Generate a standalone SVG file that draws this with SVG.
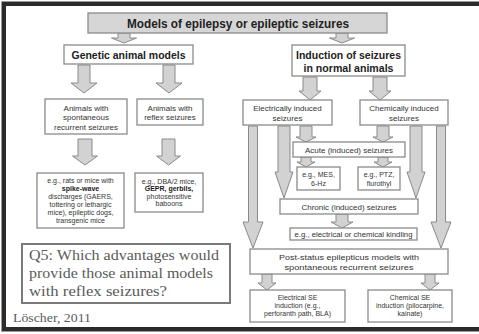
<svg xmlns="http://www.w3.org/2000/svg" width="479" height="334" viewBox="0 0 479 334">
  <style>
    .box { fill: #ffffff; stroke: #8a8a8a; stroke-width: 1.3; }
    .hdr { fill: #d6d6d6; stroke: #8a8a8a; stroke-width: 1.3; }
    .arr { fill: #d2d2d2; stroke: #8a8a8a; stroke-width: 1; stroke-linejoin: miter; }
    .t { font-family: "Liberation Sans", Arial, Helvetica, sans-serif; fill: #333333; text-anchor: middle; }
    .b { font-weight: bold; fill: #222222; }
    .s { font-size: 8px; }
    .xs { font-size: 7px; }
    .serif { font-family: "Liberation Serif", "Times New Roman", serif; fill: #5a5a5a; }
  </style>

  <!-- slide frame -->
  <path d="M479 4 H4 V329 H479" fill="none" stroke="#2b2b2b" stroke-width="4"/>
  <path d="M479 1.5 H1.5 V331.5 H479" fill="none" stroke="#9a9a9a" stroke-width="1"/>

  <!-- connectors: block arrows -->
  <g id="connectors">
    <!-- from title -->
    <polygon class="arr" points="118,33 130,33 130,38 136.5,38 124,43 111.5,38 118,38"/>
    <polygon class="arr" points="336,33 348,33 348,38 354.5,38 342,43 329.5,38 336,38"/>
    <!-- genetic -> animals -->
    <polygon class="arr" points="78,65 90,65 90,83 97,83 84,93 71,83 78,83"/>
    <polygon class="arr" points="163,65 175,65 175,83 182,83 169,93 156,83 163,83"/>
    <!-- induction -> electrically / chemically -->
    <polygon class="arr" points="303,77 317,77 317,91 321,91 310,100 299,91 303,91"/>
    <polygon class="arr" points="373,77 387,77 387,91 391,91 380,100 369,91 373,91"/>
    <!-- animals -> examples -->
    <polygon class="arr" points="78,139 92,139 92,156 97.5,156 85,165 72.5,156 78,156"/>
    <polygon class="arr" points="162,139 175,139 175,156 180.5,156 168.5,165 156.5,156 162,156"/>
    <!-- electrically / chemically -> acute -->
    <polygon class="arr" points="300,126 312,126 312,137 316,137 306,142 296,137 300,137"/>
    <polygon class="arr" points="377,126 389,126 389,137 393,137 383,142 373,137 377,137"/>
    <!-- acute -> examples -->
    <polygon class="arr" points="301,157 311,157 311,162 315,162 306,167 297,162 301,162"/>
    <polygon class="arr" points="378,157 388,157 388,162 392,162 383,167 374,162 378,162"/>
    <!-- long arrows -->
    <polygon class="arr" points="248.5,126 257.5,126 257.5,222 263,222 253,248 243,222 248.5,222"/>
    <polygon class="arr" points="278,126 290,126 290,172 293,172 284,198 275,172 278,172"/>
    <polygon class="arr" points="410,126 422,126 422,172 425,172 416,198 407,172 410,172"/>
    <polygon class="arr" points="436.5,126 445.5,126 445.5,222 451,222 441,248 431,222 436.5,222"/>
    <!-- chronic -> kindling -->
    <polygon class="arr" points="336,214 348,214 348,222 353,222 342,228 331,222 336,222"/>
    <!-- post-status -> SE induction -->
    <polygon class="arr" points="262,274 272,274 272,283 276,283 267,290 258,283 262,283"/>
    <polygon class="arr" points="425,274 435,274 435,283 439,283 430,290 421,283 425,283"/>
  </g>

  <g id="title">
    <rect class="hdr" x="88" y="13" width="299" height="20"/>
    <text class="t b" x="238" y="27.5" font-size="12" textLength="222" lengthAdjust="spacingAndGlyphs">Models of epilepsy or epileptic seizures</text>
  </g>

  <g id="genetic">
    <rect class="box" x="64" y="45" width="129" height="19"/>
    <text class="t b" x="128.5" y="58.5" font-size="10.5" textLength="114" lengthAdjust="spacingAndGlyphs">Genetic animal models</text>
  </g>

  <g id="induction">
    <rect class="box" x="292" y="45" width="113" height="31"/>
    <text class="t b" x="348.5" y="59" font-size="10.5" textLength="105" lengthAdjust="spacingAndGlyphs">Induction of seizures</text>
    <text class="t b" x="348.5" y="72" font-size="10.5" textLength="90" lengthAdjust="spacingAndGlyphs">in normal animals</text>
  </g>

  <g id="spontaneous">
    <rect class="box" x="45" y="99" width="82" height="35"/>
    <text class="t s" x="86" y="110.5">Animals with</text>
    <text class="t s" x="86" y="120">spontaneous</text>
    <text class="t s" x="86" y="129.5">recurrent seizures</text>
  </g>

  <g id="reflex">
    <rect class="box" x="137" y="99" width="66" height="26"/>
    <text class="t s" x="170" y="110.5">Animals with</text>
    <text class="t s" x="170" y="120">reflex seizures</text>
  </g>

  <g id="electrically">
    <rect class="box" x="243" y="100" width="89" height="25"/>
    <text class="t s" x="287.5" y="111">Electrically induced</text>
    <text class="t s" x="287.5" y="121">seizures</text>
  </g>

  <g id="chemically">
    <rect class="box" x="360" y="100" width="88" height="25"/>
    <text class="t s" x="404" y="111">Chemically induced</text>
    <text class="t s" x="404" y="121">seizures</text>
  </g>

  <g id="genetic-examples">
    <rect class="box" x="37" y="173" width="87" height="55"/>
    <text class="t xs" x="80.5" y="182.5">e.g., rats or mice with</text>
    <text class="t xs b" x="80.5" y="190.5">spike-wave</text>
    <text class="t xs" x="80.5" y="198.5">discharges (GAERS,</text>
    <text class="t xs" x="80.5" y="206.5">tottering or  lethargic</text>
    <text class="t xs" x="80.5" y="214.5">mice), epileptic dogs,</text>
    <text class="t xs" x="80.5" y="222.5">transgenic mice</text>
  </g>

  <g id="reflex-examples">
    <rect class="box" x="135" y="173" width="68" height="39"/>
    <text class="t xs" x="169" y="183.5">e.g., DBA/2 mice,</text>
    <text class="t xs b" x="169" y="191">GEPR, gerbils,</text>
    <text class="t xs" x="169" y="198.5">photosensitive</text>
    <text class="t xs" x="169" y="206">baboons</text>
  </g>

  <g id="acute">
    <rect class="box" x="293" y="142" width="112" height="15"/>
    <text class="t s" x="349" y="152.5">Acute (induced) seizures</text>
  </g>

  <g id="acute-electrical">
    <rect class="box" x="297" y="167" width="43" height="23"/>
    <text class="t xs" x="318.5" y="177">e.g., MES,</text>
    <text class="t xs" x="318.5" y="185.5">6-Hz</text>
  </g>

  <g id="acute-chemical">
    <rect class="box" x="358" y="167" width="42" height="23"/>
    <text class="t xs" x="379" y="177">e.g., PTZ,</text>
    <text class="t xs" x="379" y="185.5">flurothyl</text>
  </g>

  <g id="chronic">
    <rect class="box" x="280" y="199" width="138" height="15"/>
    <text class="t s" x="349" y="209.5">Chronic (induced) seizures</text>
  </g>

  <g id="kindling">
    <rect class="box" x="290" y="228" width="127" height="12"/>
    <text class="t xs" x="353.5" y="236.5" textLength="118" lengthAdjust="spacingAndGlyphs">e.g., electrical or chemical kindling</text>
  </g>

  <g id="post-status">
    <rect class="box" x="250" y="249" width="198" height="25"/>
    <text class="t s" x="349" y="259.5" textLength="140" lengthAdjust="spacingAndGlyphs">Post-status epilepticus models with</text>
    <text class="t s" x="349" y="270" textLength="129" lengthAdjust="spacingAndGlyphs">spontaneous recurrent seizures</text>
  </g>

  <g id="electrical-se">
    <rect class="box" x="250" y="290" width="95" height="32"/>
    <text class="t xs" x="297.5" y="299.5">Electrical SE</text>
    <text class="t xs" x="297.5" y="307.5">induction (e.g.,</text>
    <text class="t xs" x="297.5" y="316">perforanth path, BLA)</text>
  </g>

  <g id="chemical-se">
    <rect class="box" x="368" y="290" width="84" height="32"/>
    <text class="t xs" x="410" y="299.5">Chemical SE</text>
    <text class="t xs" x="410" y="307.5">induction (pilocarpine,</text>
    <text class="t xs" x="410" y="316">kainate)</text>
  </g>

  <g id="question">
    <rect x="22" y="244" width="208" height="59" fill="#ffffff" stroke="#7a7a7a" stroke-width="2"/>
    <text class="serif" x="29" y="260" font-size="15" textLength="190" lengthAdjust="spacingAndGlyphs">Q5: Which advantages would</text>
    <text class="serif" x="29" y="278" font-size="15" textLength="184" lengthAdjust="spacingAndGlyphs">provide those animal models</text>
    <text class="serif" x="29" y="296" font-size="15" textLength="138" lengthAdjust="spacingAndGlyphs">with reflex seizures?</text>
  </g>

  <g id="citation">
    <text class="serif" x="13" y="322" font-size="12" textLength="78" lengthAdjust="spacingAndGlyphs">Löscher, 2011</text>
  </g>
</svg>
